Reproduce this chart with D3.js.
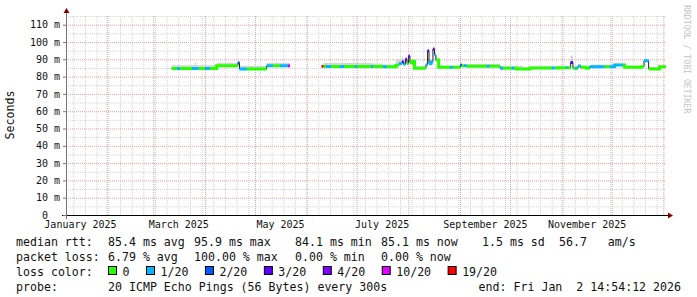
<!DOCTYPE html>
<html>
<head>
<meta charset="utf-8">
<script src="https://cdn.jsdelivr.net/npm/d3@7"></script>
<style>
  body { margin: 0; background: #fff; }
  svg { display: block; }
  text { font-family: "DejaVu Sans Mono", monospace; }
</style>
</head>
<body>
<svg id="chart" width="697" height="297"></svg>
<script>
// each sample holds until the next one; null = no data
const sampleTimes = [
  "2025-03-12 00", "2025-03-15 05", "2025-03-17 00", "2025-03-24 05", "2025-03-26 00",
  "2025-03-26 22", "2025-03-28 02", "2025-04-01 00", "2025-04-04 00", "2025-04-08 00",
  "2025-04-20 19", "2025-04-21 17", "2025-04-26 05", "2025-05-08 00", "2025-05-11 19",
  "2025-05-16 00", "2025-05-20 19", "2025-05-22 00", "2025-06-10 00", "2025-06-11 02",
  "2025-06-12 14", "2025-06-15 14", "2025-06-21 00", "2025-06-23 10", "2025-06-30 00",
  "2025-07-01 05", "2025-07-09 14", "2025-07-10 19", "2025-07-16 19", "2025-07-19 05",
  "2025-07-24 14", "2025-07-26 10", "2025-07-28 05", "2025-07-29 02", "2025-07-30 07",
  "2025-07-31 05", "2025-08-01 02", "2025-08-02 00", "2025-08-03 05", "2025-08-04 17",
  "2025-08-11 14", "2025-08-12 14", "2025-08-13 10", "2025-08-14 14", "2025-08-15 19",
  "2025-08-16 17", "2025-08-17 14", "2025-08-19 05", "2025-08-26 00", "2025-08-27 19",
  "2025-09-01 07", "2025-09-02 05", "2025-09-03 10", "2025-09-05 00", "2025-09-17 00",
  "2025-09-18 14", "2025-09-25 00", "2025-09-26 19", "2025-10-02 00", "2025-10-03 10",
  "2025-10-05 00", "2025-10-08 19", "2025-10-13 00", "2025-10-26 00", "2025-10-28 00",
  "2025-10-29 19", "2025-11-03 14", "2025-11-04 12", "2025-11-06 10", "2025-11-07 19",
  "2025-11-09 00", "2025-11-10 05", "2025-11-10 19", "2025-11-12 10", "2025-11-15 19",
  "2025-11-17 19", "2025-11-26 19", "2025-11-29 19", "2025-12-02 19", "2025-12-07 19",
  "2025-12-08 19", "2025-12-18 19", "2025-12-20 10", "2025-12-23 05", "2025-12-29 19"
];

// median rtt in ms
const medianRtt = [
  84.7, 84.7, 84.7, 84.7, 84.7, 84.7, 84.7, 84.7, 84.7, 86.3,
  88.0, 84.4, 84.4, 86.2, 86.2, 86.2, 86.2, null, 85.9, 85.9,
  85.9, 85.9, 85.9, 85.9, 85.9, 85.9, 85.9, 85.9, 85.7, 85.7,
  86.5, 87.5, 88.6, 87.2, 90.0, 87.5, 91.8, 88.0, 88.8, 84.8,
  86.8, 95.0, 87.5, 88.5, 96.0, 92.5, 89.6, 85.4, 85.4, 85.4,
  86.7, 86.3, 86.3, 86.0, 86.0, 86.0, 84.8, 84.8, 84.8, 84.8,
  84.4, 84.4, 85.0, 85.0, 85.0, 85.1, 85.1, 85.1, 88.2, 84.8,
  84.8, 84.8, 86.1, 85.4, 84.8, 85.7, 85.7, 85.7, 86.7, 86.7,
  85.4, 85.7, 89.2, 84.4, 85.7
];

// top of the smoke band in ms
const smokeHigh = [
  86.6, 86.6, 86.6, 86.6, 88.2, 86.6, 86.6, 86.6, 86.6, 88.0,
  88.4, 86.3, 86.3, 87.8, 87.8, 87.8, 87.8, null, 86.5, 87.9,
  87.9, 87.9, 87.9, 87.9, 87.9, 87.9, 87.6, 87.6, 87.0, 87.0,
  90.0, 90.0, 91.0, 90.0, 91.0, 89.0, 92.5, 89.5, 89.5, 86.0,
  88.0, 95.5, 90.0, 90.0, 96.3, 93.5, 91.0, 86.2, 86.2, 86.2,
  87.0, 87.0, 87.0, 87.3, 87.3, 87.3, 86.3, 86.3, 86.3, 86.3,
  86.3, 85.3, 85.8, 85.8, 85.8, 85.8, 85.8, 85.8, 92.0, 86.0,
  86.0, 86.0, 86.8, 86.2, 85.8, 86.8, 86.8, 86.8, 87.5, 87.5,
  86.3, 86.5, 90.0, 85.5, 86.3
];

// index into lossLabels
const lossLevel = [
  0, 1, 0, 1, 1, 1, 0, 1, 0, 0,
  2, 1, 0, 1, 0, 1, 5, null, 6, 0,
  1, 0, 1, 0, 1, 0, 1, 0, 1, 0,
  0, 1, 3, 1, 3, 0, 3, 0, 0, 0,
  1, 3, 1, 1, 3, 1, 0, 0, 1, 0,
  2, 0, 1, 0, 1, 0, 1, 0, 1, 0,
  0, 0, 0, 1, 0, 0, 1, 0, 3, 0,
  1, 0, 1, 0, 0, 1, 0, 1, 1, 0,
  0, 0, 1, 0, 0
];

const lossLabels = ["0", "1/20", "2/20", "3/20", "4/20", "10/20", "19/20"];
const lossColors = ["#26ff00", "#00b8ff", "#0059ff", "#5e00ff", "#7e00ff", "#dd00ff", "#ff0000"];

const yTicks = [0, 10, 20, 30, 40, 50, 60, 70, 80, 90, 100, 110];
const yMinorTicks = [5, 15, 25, 35, 45, 55, 65, 75, 85, 95, 105, 115];
const yMax = 115.6;
const xLabelMonths = ["2025-01", "2025-03", "2025-05", "2025-07", "2025-09", "2025-11"];

const endStamp = "2026-01-02 14:54:12";

const rttLegend = [
  ["median rtt:", 16], ["85.4 ms avg", 108], ["95.9 ms max", 194], ["84.1 ms min", 295],
  ["85.1 ms now", 381], ["1.5 ms sd", 482], ["56.7   am/s", 559]
];
const lossLegend = [
  ["packet loss:", 16], ["6.79 % avg", 108], ["100.00 % max", 194],
  ["0.00 % min", 295], ["0.00 % now", 381]
];

const svg = d3.select("#chart");
const plotLeft = 66, plotRight = 666, plotTop = 15, plotBottom = 215;

const parseT = d3.utcParse("%Y-%m-%d %H");
const endTime = d3.utcParse("%Y-%m-%d %H:%M:%S")(endStamp);
const startTime = d3.utcDay.offset(endTime, -360);

const x = d3.scaleUtc().domain([startTime, endTime]).range([plotLeft, plotRight]);
const y = d3.scaleLinear().domain([0, yMax]).range([plotBottom, plotTop]);

// ---- grid
const minorGrid = "#d2d2d2";
const majorGrid = "#e6a0a0";

const gridX = (values, color) => {
  svg.append("g")
    .attr("transform", `translate(0,${plotBottom})`)
    .call(d3.axisBottom(x).tickValues(values).tickSize(-(plotBottom - plotTop)).tickFormat(""))
    .call((g) => g.select(".domain").remove())
    .selectAll("line")
    .attr("stroke", color)
    .attr("stroke-dasharray", "1,1");
};
const gridY = (values, color) => {
  svg.append("g")
    .attr("transform", `translate(${plotLeft},0)`)
    .call(d3.axisLeft(y).tickValues(values).tickSize(-(plotRight - plotLeft)).tickFormat(""))
    .call((g) => g.select(".domain").remove())
    .selectAll("line")
    .attr("stroke", color)
    .attr("stroke-dasharray", "1,1");
};

gridX(d3.utcSunday.range(startTime, endTime), minorGrid);
gridY(yMinorTicks, minorGrid);
gridX(d3.utcMonth.range(d3.utcMonth.ceil(startTime), endTime), majorGrid);
gridY(yTicks.filter((d) => d > 0), majorGrid);

// ---- data, expanded to steps
const times = sampleTimes.map(parseT);
const steps = [];
times.forEach((t, i) => {
  const t1 = i + 1 < times.length ? times[i + 1] : endTime;
  const ok = medianRtt[i] != null;
  const s = { v: medianRtt[i], hi: smokeHigh[i], loss: lossLevel[i], ok };
  steps.push({ ...s, t: t });
  steps.push({ ...s, t: t1 });
});

const smoke = d3.area()
  .defined((d) => d.ok)
  .x((d) => x(d.t))
  .y0((d) => y(d.v))
  .y1((d) => y(d.hi));

svg.append("path")
  .attr("d", smoke(steps))
  .attr("fill", "#d4d4d4");

const medLine = d3.line()
  .defined((d) => d.ok)
  .x((d) => x(d.t))
  .y((d) => y(d.v));

svg.append("path")
  .attr("d", medLine(steps))
  .attr("fill", "none")
  .attr("stroke", "#202020")
  .attr("stroke-width", 1);

lossColors.forEach((c, k) => {
  svg.append("path")
    .attr("d", medLine.defined((d) => d.ok && d.loss === k)(steps))
    .attr("fill", "none")
    .attr("stroke", c)
    .attr("stroke-width", 3);
});

// ---- axes
svg.append("line")
  .attr("x1", plotLeft - 4).attr("x2", plotRight + 4)
  .attr("y1", plotBottom + 0.5).attr("y2", plotBottom + 0.5)
  .attr("stroke", "#000");
svg.append("line")
  .attr("x1", plotLeft + 0.5).attr("x2", plotLeft + 0.5)
  .attr("y1", plotBottom + 4).attr("y2", plotTop - 3)
  .attr("stroke", "#777");

svg.append("path")
  .attr("d", `M${plotLeft - 2.5},${plotTop - 2} L${plotLeft + 3.5},${plotTop - 2} L${plotLeft + 0.5},${plotTop - 7} Z`)
  .attr("fill", "#800000");
svg.append("path")
  .attr("d", `M${plotRight + 2},${plotBottom - 2.5} L${plotRight + 2},${plotBottom + 3.5} L${plotRight + 7},${plotBottom + 0.5} Z`)
  .attr("fill", "#800000");

const yAxis = svg.append("g")
  .attr("transform", `translate(${plotLeft},0)`)
  .call(d3.axisLeft(y).tickValues(yTicks).tickSize(3).tickPadding(3)
    .tickFormat((d) => (d === 0 ? "0\u00a0\u00a0" : d + " m")));
yAxis.select(".domain").remove();
yAxis.selectAll("line").attr("stroke", "#777");
yAxis.selectAll("text")
  .attr("font-family", "DejaVu Sans Mono")
  .attr("font-size", 10)
  .attr("fill", "#111");

const monthFmt = d3.utcFormat("%B %Y");
const xAxis = svg.append("g")
  .attr("transform", `translate(0,${plotBottom})`)
  .call(d3.axisBottom(x)
    .tickValues(xLabelMonths.map((m) => d3.utcDay.offset(d3.utcParse("%Y-%m")(m), 15)))
    .tickSize(0).tickPadding(6)
    .tickFormat((d) => monthFmt(d3.utcMonth.floor(d))));
xAxis.select(".domain").remove();
xAxis.selectAll("text")
  .attr("font-family", "DejaVu Sans Mono")
  .attr("font-size", 10)
  .attr("fill", "#111");

// ---- titles
svg.append("text")
  .attr("transform", `translate(14,${(plotTop + plotBottom) / 2}) rotate(-90)`)
  .attr("text-anchor", "middle")
  .attr("font-size", 11.6)
  .attr("fill", "#111")
  .text("Seconds");

svg.append("text")
  .attr("transform", "translate(684,5) rotate(90)")
  .attr("font-size", 8.2)
  .attr("fill", "#c4c4c4")
  .text("RRDTOOL / TOBI OETIKER");

// ---- legend
const legendFont = 11.6;
const charW = legendFont * 0.602;
const rowY = [245.5, 260.5, 275.5, 290.5];

const legendText = (str, xPos, row, anchor) => {
  svg.append("text")
    .attr("x", xPos)
    .attr("y", rowY[row])
    .attr("text-anchor", anchor || "start")
    .attr("font-size", legendFont)
    .attr("fill", "#111")
    .style("white-space", "pre")
    .text(str);
};

rttLegend.forEach(([s, px]) => legendText(s, px, 0));
lossLegend.forEach(([s, px]) => legendText(s, px, 1));

legendText("loss color:", 16, 2);
let bx = 108;
lossLabels.forEach((lab, k) => {
  svg.append("rect")
    .attr("x", bx + 0.5)
    .attr("y", rowY[2] - 9)
    .attr("width", 8)
    .attr("height", 8)
    .attr("fill", lossColors[k])
    .attr("stroke", "#000");
  legendText(lab, bx + 14.5, 2);
  bx += lab.length * charW + 31;
});

legendText("probe:", 16, 3);
legendText("20 ICMP Echo Pings (56 Bytes) every 300s", 108, 3);
legendText("end: Fri Jan  2 14:54:12 2026", 681, 3, "end");
</script>
</body>
</html>
